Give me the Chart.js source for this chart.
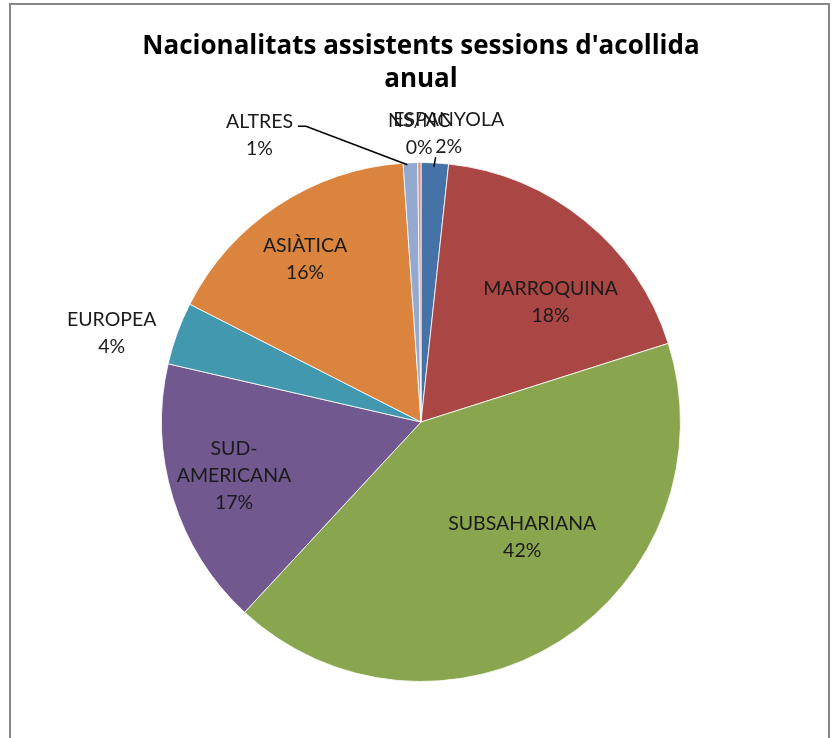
<!DOCTYPE html>
<html>
<head>
<meta charset="utf-8">
<script src="https://cdn.jsdelivr.net/npm/chart.js@4/dist/chart.umd.min.js"></script>
<style>
  html, body { margin: 0; padding: 0; background: #fff; }
  #wrap { position: relative; width: 835px; height: 738px; overflow: hidden; }
  #frame { position: absolute; left: 9px; top: 3px; width: 821px; height: 760px; border: 2px solid #878787; box-sizing: border-box; pointer-events: none; }
  canvas { position: absolute; left: 0; top: 0; }
</style>
</head>
<body>
<div id="wrap">
  <canvas id="c" width="835" height="738"></canvas>
  <div id="frame"></div>
</div>
<script>
const titleLines = ["Nacionalitats assistents sessions d'acollida", "anual"];
const categories = ['ESPANYOLA', 'MARROQUINA', 'SUBSAHARIANA', 'SUD-AMERICANA', 'EUROPEA', 'ASIÀTICA', 'ALTRES', 'NS/NC'];
const labelLines = [['ESPANYOLA'], ['MARROQUINA'], ['SUBSAHARIANA'], ['SUD-', 'AMERICANA'], ['EUROPEA'], ['ASIÀTICA'], ['ALTRES'], ['NS/NC']];
const values = [1.7, 18.4, 41.8, 16.7, 3.9, 16.4, 0.9, 0.2];
const colors = ['#4572A7', '#AA4643', '#89A54E', '#71588F', '#4198AF', '#DB843D', '#93A9CF', '#D19392'];

// label placement: radial fraction of the radius, angle offset (deg) from slice mid-angle, leader style
const labelPlacement = [
  { r: 1.12, da: 2.4, leader: 'bottom' },
  { r: 0.68, da: 8 },
  { r: 0.59, da: -9 },
  { r: 0.75, da: 1 },
  { r: 1.24, da: -4 },
  { r: 0.77, da: -2 },
  { r: 1.27, da: -27, leader: 'right' },
  { r: 1.11, da: 0 }
];

const labelFont = '19.5px Lato, "Liberation Sans", sans-serif';
const lineH = 27;

const pieLabels = {
  id: 'pieLabels',
  afterDatasetsDraw(chart) {
    const ctx = chart.ctx;
    const meta = chart.getDatasetMeta(0);
    const data = chart.data.datasets[0].data;
    const total = data.reduce((a, b) => a + b, 0);
    ctx.save();
    ctx.font = labelFont;
    ctx.fillStyle = '#1a1a1a';
    ctx.textAlign = 'center';
    ctx.textBaseline = 'middle';
    meta.data.forEach((arc, i) => {
      const p = arc.getProps(['x', 'y', 'startAngle', 'endAngle', 'outerRadius'], true);
      const mid = (p.startAngle + p.endAngle) / 2;
      const pl = labelPlacement[i];
      const a = mid + pl.da * Math.PI / 180;
      const cx = p.x + Math.cos(a) * p.outerRadius * pl.r;
      const cy = p.y + Math.sin(a) * p.outerRadius * pl.r;
      const lines = labelLines[i].concat([Math.round(data[i] / total * 100) + '%']);
      const top = cy - (lines.length - 1) * lineH / 2;
      let maxW = 0;
      lines.forEach((t, k) => {
        ctx.fillText(t, cx, top + k * lineH);
        maxW = Math.max(maxW, ctx.measureText(t).width);
      });
      if (pl.leader) {
        const ex = p.x + Math.cos(mid) * p.outerRadius;
        const ey = p.y + Math.sin(mid) * p.outerRadius;
        ctx.strokeStyle = '#000';
        ctx.lineWidth = 1.5;
        ctx.beginPath();
        if (pl.leader === 'right') {
          const sx = cx + maxW / 2 + 5, sy = top + 5;
          ctx.moveTo(sx, sy);
          ctx.lineTo(sx + 8, sy);
          ctx.lineTo(ex - 3, ey + 2);
        } else {
          const sx = cx - 13, sy = top + (lines.length - 1) * lineH + 11;
          ctx.moveTo(sx, sy);
          ctx.lineTo(ex - 1, ey + 4);
        }
        ctx.stroke();
      }
    });
    ctx.restore();
  }
};

new Chart(document.getElementById('c'), {
  type: 'pie',
  data: {
    labels: categories,
    datasets: [{
      data: values,
      backgroundColor: colors,
      borderColor: 'rgba(255,255,255,0.8)',
      borderWidth: 1
    }]
  },
  options: {
    responsive: false,
    animation: false,
    layout: { padding: { left: 7, right: 0, top: 0, bottom: 56 } },
    plugins: {
      legend: { display: false },
      tooltip: { enabled: false },
      title: {
        display: true,
        text: titleLines,
        color: '#000',
        font: { family: '"Open Sans", Lato, sans-serif', size: 26, weight: 'bold', lineHeight: 1.27 },
        padding: { top: 30, bottom: 66 }
      }
    }
  },
  plugins: [pieLabels]
});
</script>
</body>
</html>
